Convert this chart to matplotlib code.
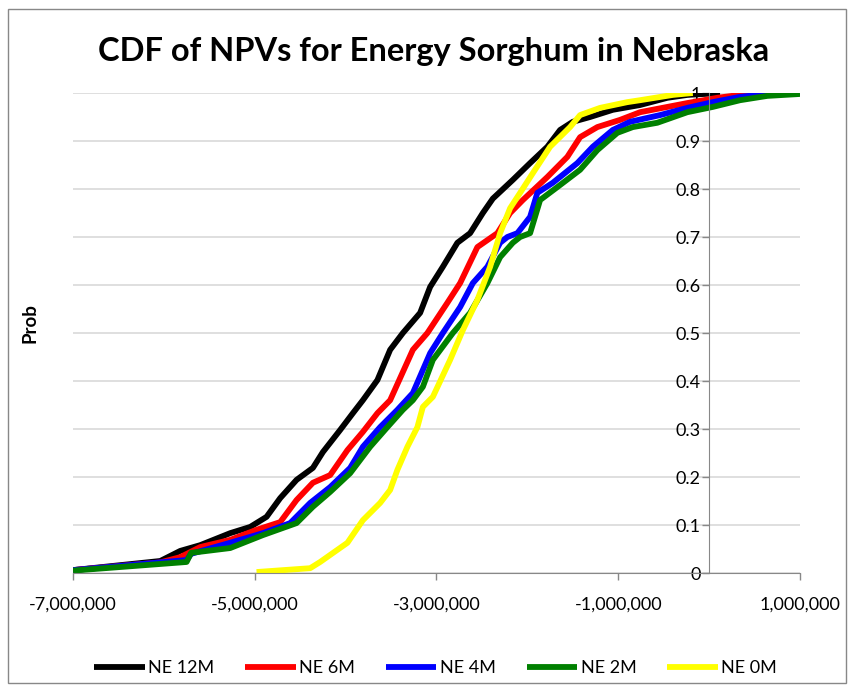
import matplotlib
matplotlib.use('Agg')
import matplotlib.pyplot as plt
from matplotlib.patches import Rectangle
from matplotlib.ticker import FuncFormatter

plt.rcParams['font.family'] = ['Lato', 'DejaVu Sans']

# NPV in millions of dollars, cumulative probability
ne12_x = [-7.00, -6.04, -5.82, -5.60, -5.27, -5.05, -4.87, -4.72, -4.54, -4.36, -4.25, -4.06,
          -3.92, -3.81, -3.65, -3.51, -3.37, -3.18, -3.07, -2.93, -2.77, -2.63, -2.49, -2.38,
          -2.16, -1.97, -1.78, -1.64, -1.50, -1.31, -1.06, -0.76, -0.46, -0.24, 0.04, 0.12]
ne12_p = [0.006, 0.025, 0.046, 0.058, 0.083, 0.096, 0.117, 0.156, 0.194, 0.219, 0.252, 0.298,
          0.333, 0.360, 0.402, 0.465, 0.500, 0.542, 0.596, 0.638, 0.688, 0.708, 0.750, 0.780,
          0.819, 0.854, 0.888, 0.923, 0.940, 0.950, 0.965, 0.975, 0.990, 0.996, 0.999, 1.000]

ne6_x = [-7.00, -6.04, -5.82, -5.60, -5.27, -4.98, -4.72, -4.54, -4.36, -4.17, -3.98, -3.81,
         -3.65, -3.51, -3.26, -3.10, -2.88, -2.74, -2.55, -2.33, -2.19, -2.05, -1.78, -1.56,
         -1.42, -1.23, -0.98, -0.76, -0.24, 0.09, 0.42, 0.64]
ne6_p = [0.006, 0.022, 0.033, 0.054, 0.069, 0.090, 0.106, 0.152, 0.188, 0.204, 0.256, 0.294,
         0.333, 0.360, 0.465, 0.500, 0.563, 0.604, 0.679, 0.708, 0.750, 0.777, 0.825, 0.867,
         0.908, 0.929, 0.944, 0.960, 0.979, 0.990, 0.998, 1.000]

ne4_x = [-7.00, -5.75, -5.70, -5.27, -4.91, -4.61, -4.39, -4.17, -3.95, -3.81, -3.62, -3.43,
         -3.26, -3.07, -2.93, -2.74, -2.60, -2.44, -2.30, -2.22, -2.11, -1.97, -1.89, -1.72,
         -1.45, -1.28, -1.06, -0.87, -0.54, -0.24, 0.04, 0.34, 0.64, 0.89]
ne4_p = [0.006, 0.027, 0.040, 0.063, 0.083, 0.104, 0.146, 0.179, 0.219, 0.263, 0.304, 0.340,
         0.375, 0.458, 0.500, 0.554, 0.604, 0.638, 0.688, 0.700, 0.708, 0.742, 0.792, 0.813,
         0.854, 0.888, 0.923, 0.940, 0.954, 0.969, 0.981, 0.992, 0.998, 1.000]

ne2_x = [-7.00, -5.75, -5.70, -5.27, -4.91, -4.54, -4.36, -4.17, -3.95, -3.73, -3.54, -3.37,
         -3.26, -3.15, -3.04, -2.82, -2.63, -2.44, -2.30, -2.16, -2.08, -1.97, -1.86, -1.67,
         -1.42, -1.23, -1.01, -0.84, -0.57, -0.24, 0.04, 0.34, 0.64, 1.00]
ne2_p = [0.005, 0.023, 0.042, 0.052, 0.079, 0.104, 0.138, 0.169, 0.208, 0.263, 0.304, 0.340,
         0.360, 0.388, 0.444, 0.500, 0.542, 0.604, 0.658, 0.688, 0.700, 0.708, 0.777, 0.804,
         0.840, 0.881, 0.917, 0.929, 0.938, 0.960, 0.971, 0.985, 0.994, 0.998]

ne0_x = [-4.98, -4.39, -4.28, -3.98, -3.81, -3.62, -3.51, -3.43, -3.32, -3.21, -3.15, -3.04,
         -2.85, -2.71, -2.55, -2.41, -2.30, -2.19, -2.08, -1.94, -1.75, -1.53, -1.42, -1.20,
         -0.90, -0.76, -0.40, -0.18]
ne0_p = [0.002, 0.010, 0.023, 0.063, 0.110, 0.146, 0.173, 0.215, 0.263, 0.304, 0.346, 0.367,
         0.444, 0.506, 0.569, 0.638, 0.708, 0.760, 0.792, 0.833, 0.888, 0.929, 0.954, 0.969,
         0.981, 0.985, 0.996, 1.000]

series = [('NE 12M', ne12_x, ne12_p, 'black'),
          ('NE 6M', ne6_x, ne6_p, '#ff0000'),
          ('NE 4M', ne4_x, ne4_p, '#0000ff'),
          ('NE 2M', ne2_x, ne2_p, '#008000'),
          ('NE 0M', ne0_x, ne0_p, '#ffff00')]

fig = plt.figure(figsize=(8.54, 6.89), dpi=100)
ax = fig.add_axes([73/854, 116/689, 727/854, 480/689])

for name, xs, ps, col in series:
    ax.plot([v*1e6 for v in xs], ps, color=col, lw=4.2, label=name,
            solid_joinstyle='round', solid_capstyle='butt')

ax.set_xlim(-7e6, 1e6)
ax.set_ylim(0, 1)
ax.set_xticks([-7e6, -5e6, -3e6, -1e6, 1e6])
ax.set_yticks([i/10 for i in range(11)])
ax.xaxis.set_major_formatter(FuncFormatter(lambda v, p: '{:,.0f}'.format(v)))
ax.yaxis.set_major_formatter(FuncFormatter(lambda v, p: '%g' % round(v, 1)))

ax.yaxis.grid(True, color='#d9d9d9', lw=1.2)
ax.set_axisbelow(True)
for s in ['top', 'right']:
    ax.spines[s].set_visible(False)
ax.spines['left'].set_position(('data', 0))
ax.spines['left'].set_color('#888888')
ax.spines['bottom'].set_color('#888888')
ax.tick_params(axis='both', colors='#888888', direction='out', length=5, width=1,
               labelcolor='black', labelsize=13)
ax.tick_params(axis='x', pad=12)
ax.tick_params(axis='y', pad=1)

fig.text(30/854, 1 - 323/689, 'Prob', rotation=90, fontsize=13.5, fontweight='bold',
         ha='center', va='center')
fig.suptitle('CDF of NPVs for Energy Sorghum in Nebraska', x=0.508, y=1 - 52/689,
             fontsize=23.5, fontweight='bold', va='center')

fig.legend(loc='center', bbox_to_anchor=(0.51, 1 - 668/689), ncol=5, frameon=False,
           fontsize=13, handlelength=2.8, columnspacing=1.7, handletextpad=0.2)

fig.patches.append(Rectangle((8/854, 6/689), 838/854, 674/689, transform=fig.transFigure,
                             fill=False, edgecolor='#888888', lw=1))

fig.savefig('out.png', dpi=100)
